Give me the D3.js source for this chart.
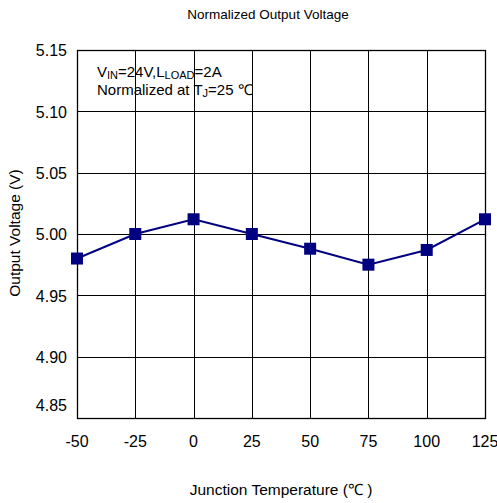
<!DOCTYPE html>
<html>
<head>
<meta charset="utf-8">
<script src="https://cdn.jsdelivr.net/npm/d3@7"></script>
<style>
  body { margin: 0; background: #fff; }
  svg text { font-family: "Liberation Sans", Arial, sans-serif; fill: #000; }
</style>
</head>
<body>
<svg width="497" height="503"></svg>
<script>
// chart data
var temps = [-50, -25, 0, 25, 50, 75, 100, 125];
var vout = [4.980, 5.000, 5.012, 5.000, 4.988, 4.975, 4.987, 5.012];
var yTicks = [4.85, 4.90, 4.95, 5.00, 5.05, 5.10, 5.15];

var svg = d3.select("svg");
// plot box (don't call it "top", window.top is read only)
var plotL = 77, plotR = 485, plotT = 50, plotB = 418;

var x = d3.scaleLinear().domain([-50, 125]).range([plotL, plotR]);
var y = d3.scaleLinear().domain([4.85, 5.15]).range([plotB, plotT]);

// grid
var g = svg.append("g");
g.selectAll("line.vg")
  .data(temps)
  .enter().append("line")
  .attr("x1", d => Math.round(x(d)) + 0.5).attr("x2", d => Math.round(x(d)) + 0.5)
  .attr("y1", plotT).attr("y2", plotB)
  .attr("stroke", "#000").attr("stroke-width", 1);
g.selectAll("line.hg")
  .data(yTicks)
  .enter().append("line")
  .attr("x1", plotL).attr("x2", plotR)
  .attr("y1", d => Math.round(y(d)) + 0.5).attr("y2", d => Math.round(y(d)) + 0.5)
  .attr("stroke", "#000").attr("stroke-width", 1);
// frame
svg.append("rect")
  .attr("x", plotL + 0.5).attr("y", plotT + 0.5)
  .attr("width", plotR - plotL).attr("height", plotB - plotT)
  .attr("fill", "none").attr("stroke", "#000").attr("stroke-width", 1.3);

// tick labels
svg.selectAll("text.yt")
  .data(yTicks)
  .enter().append("text")
  .attr("x", 67)
  .attr("y", d => y(d) + (d === 4.85 ? -11 : 2))
  .attr("text-anchor", "end")
  .attr("dominant-baseline", "middle")
  .style("font-size", "16px")
  .text(d => d3.format(".2f")(d));

svg.selectAll("text.xt")
  .data(temps)
  .enter().append("text")
  .attr("x", d => x(d))
  .attr("y", 443)
  .attr("text-anchor", "middle")
  .attr("dominant-baseline", "middle")
  .style("font-size", "16px")
  .text(d => d);

// titles
svg.append("text")
  .attr("x", 268).attr("y", 15)
  .attr("text-anchor", "middle").attr("dominant-baseline", "middle")
  .style("font-size", "13.5px")
  .text("Normalized Output Voltage");

svg.append("text")
  .attr("transform", "translate(16,233) rotate(-90)")
  .attr("text-anchor", "middle").attr("dominant-baseline", "middle")
  .style("font-size", "15.5px")
  .text("Output Voltage (V)");

svg.append("text")
  .attr("x", 281).attr("y", 491)
  .attr("text-anchor", "middle").attr("dominant-baseline", "middle")
  .style("font-size", "15.5px")
  .text("Junction Temperature (\u2103 )");

// condition notes
var note1 = svg.append("text").attr("x", 97).attr("y", 77).style("font-size", "15px");
note1.append("tspan").text("V");
note1.append("tspan").attr("dy", 2).style("font-size", "11px").text("IN");
note1.append("tspan").attr("dy", -2).text("=24V,L");
note1.append("tspan").attr("dy", 2).style("font-size", "11px").text("LOAD");
note1.append("tspan").attr("dy", -2).text("=2A");

var note2 = svg.append("text").attr("x", 97).attr("y", 95).style("font-size", "15px");
note2.append("tspan").text("Normalized at T");
note2.append("tspan").attr("dy", 2).style("font-size", "11px").text("J");
note2.append("tspan").attr("dy", -2).text("=25 \u2103");

// series
var pts = temps.map((t, i) => [t, vout[i]]);
svg.append("path")
  .datum(pts)
  .attr("fill", "none")
  .attr("stroke", "#000080")
  .attr("stroke-width", 2)
  .attr("d", d3.line().x(d => x(d[0])).y(d => y(d[1])));

var s = 12;
svg.selectAll("rect.pt")
  .data(pts)
  .enter().append("rect")
  .attr("x", d => x(d[0]) - s / 2)
  .attr("y", d => y(d[1]) - s / 2)
  .attr("width", s).attr("height", s)
  .attr("fill", "#000080");
</script>
</body>
</html>
